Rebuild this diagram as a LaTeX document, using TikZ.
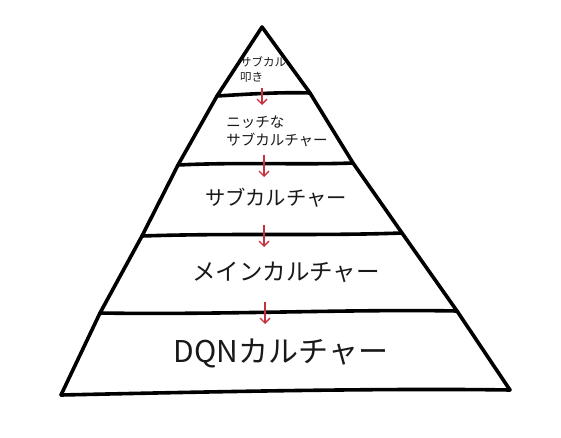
\documentclass[tikz,border=0pt]{standalone}
\usepackage{fontspec}
\setmainfont{Noto Sans CJK JP}
\usetikzlibrary{arrows.meta}
\definecolor{arrowred}{HTML}{C4323E}
\tikzset{
  outline/.style={line width=3.6pt, line cap=round, line join=round, black},
  flow/.style={arrowred, line width=1.3pt, -{Straight Barb[length=5pt,width=10pt,line width=1.3pt]}},
  label/.style={inner sep=0pt, align=left, text=black!90}
}
\begin{document}
\begin{tikzpicture}[x=1pt,y=-1pt]
\useasboundingbox (0,0) rectangle (561,438);
\fill[white] (0,0) rectangle (561,438);
% edge points
\coordinate (apex) at (262,27);
\coordinate (l1) at (217,96);  \coordinate (r1) at (310,93);
\coordinate (l2) at (178,165); \coordinate (r2) at (353,163);
\coordinate (l3) at (142,236); \coordinate (r3) at (402,233);
\coordinate (l4) at (100,313); \coordinate (r4) at (457,311);
\coordinate (bl) at (61,395);  \coordinate (br) at (510,390);
% outline
\draw[outline] (bl) -- (l4) -- (l3) -- (l2) -- (l1) -- (apex) -- (r1) -- (r2) -- (r3) -- (r4) -- (br);
\draw[outline] (bl) .. controls (200,392) and (380,388) .. (br);
\draw[outline] (l1) .. controls (250,94) and (280,92) .. (r1);
\draw[outline] (l2) .. controls (240,162) and (300,165) .. (r2);
\draw[outline] (l3) .. controls (230,233) and (320,236) .. (r3);
\draw[outline] (l4) .. controls (220,315) and (350,309) .. (r4);
% texts
\node[label, font=\fontsize{11.5}{15}\selectfont] (t1) at (263,70) {サブカル\\叩き};
\node[label, font=\fontsize{14.5}{18}\selectfont] (t2) at (277,131) {ニッチな\\サブカルチャー};
\node[label, font=\fontsize{20.3}{24}\selectfont] (t3) at (276,198) {サブカルチャー};
\node[label, font=\fontsize{23.5}{28}\selectfont] (t4) at (286,272) {メインカルチャー};
\node[label, font=\fontsize{30}{36}\selectfont] (t5) at (281,353) {DQNカルチャー};
% arrows
\coordinate (a1s) at (262,88);  \coordinate (a1e) at (262,105);
\coordinate (a2s) at (264,155); \coordinate (a2e) at (264,177);
\coordinate (a3s) at (264,225); \coordinate (a3e) at (264,247);
\coordinate (a4s) at (265,302); \coordinate (a4e) at (265,324);
\draw[flow] (a1s) -- (a1e);
\draw[flow] (a2s) -- (a2e);
\draw[flow] (a3s) -- (a3e);
\draw[flow] (a4s) -- (a4e);
\end{tikzpicture}
\end{document}
